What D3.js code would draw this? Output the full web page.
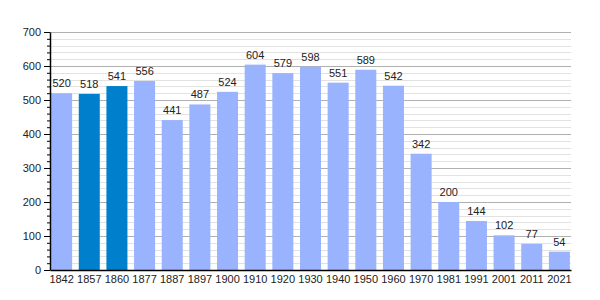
<!DOCTYPE html>
<html>
<head>
<meta charset="utf-8">
<script src="https://cdn.jsdelivr.net/npm/d3@7"></script>
<style>
  body { margin: 0; background: #fff; }
  svg text { font-family: "Liberation Sans", Arial, sans-serif; font-size: 11px; fill: #222; }
</style>
</head>
<body>
<svg id="chart" width="600" height="300"></svg>
<script>
const years = ["1842","1857","1860","1877","1887","1897","1900","1910","1920","1930","1940","1950","1960","1970","1981","1991","2001","2011","2021"];
const population = [520,518,541,556,441,487,524,604,579,598,551,589,542,342,200,144,102,77,54];
const highlighted = ["1857","1860"];
const yTicks = [0,100,200,300,400,500,600,700];

const lightColor = "#99b3ff";
const darkColor = "#0080cc";

const margin = { top: 32, right: 29, bottom: 30, left: 50 };
const width = 600 - margin.left - margin.right;
const height = 300 - margin.top - margin.bottom;

const svg = d3.select("#chart");
const g = svg.append("g").attr("transform", `translate(${margin.left},${margin.top})`);

const x = d3.scaleBand().domain(years).range([0, width]).paddingInner(0.24).paddingOuter(0.04);
const y = d3.scaleLinear().domain([0, 700]).range([height, 0]);

// minor grid
g.selectAll(".minor")
  .data(d3.range(20, 701, 20).filter(v => v % 100 !== 0))
  .join("line")
  .attr("x1", 0).attr("x2", width)
  .attr("y1", d => Math.round(y(d)) + 0.5).attr("y2", d => Math.round(y(d)) + 0.5)
  .attr("stroke", "#e2e2e2");

// major grid
g.selectAll(".major")
  .data(yTicks.filter(v => v > 0))
  .join("line")
  .attr("x1", 0).attr("x2", width)
  .attr("y1", d => Math.round(y(d)) + 0.5).attr("y2", d => Math.round(y(d)) + 0.5)
  .attr("stroke", "#b0b0b0");

// bars
g.selectAll(".bar")
  .data(years)
  .join("rect")
  .attr("x", d => x(d))
  .attr("width", x.bandwidth())
  .attr("y", (d, i) => y(population[i]))
  .attr("height", (d, i) => height - y(population[i]))
  .attr("fill", d => highlighted.includes(d) ? darkColor : lightColor);

// value labels
g.selectAll(".val")
  .data(years)
  .join("text")
  .attr("x", d => x(d) + x.bandwidth() / 2)
  .attr("y", (d, i) => y(population[i]) - 6)
  .attr("text-anchor", "middle")
  .text((d, i) => population[i]);

// y axis minor ticks
const yAxisMinor = d3.axisLeft(y).tickValues(d3.range(0, 701, 20)).tickSize(3).tickFormat("");
g.append("g").call(yAxisMinor).call(a => a.select(".domain").remove())
  .selectAll("line").attr("stroke", "#000");

// y axis major
const yAxis = d3.axisLeft(y).tickValues(yTicks).tickSize(6).tickPadding(3).tickSizeOuter(0);
g.append("g").call(yAxis)
  .call(a => a.select(".domain").attr("stroke", "#000").attr("stroke-width", 1.5))
  .call(a => a.selectAll("text").style("font-size", "11px").attr("fill", "#222"));

// x axis
const xAxis = d3.axisBottom(x).tickSize(0).tickPadding(5).tickSizeOuter(0);
g.append("g").attr("transform", `translate(0,${height})`).call(xAxis)
  .call(a => a.select(".domain").attr("stroke", "#000").attr("stroke-width", 1.5))
  .call(a => a.selectAll("text").style("font-size", "11px").attr("fill", "#222"));
</script>
</body>
</html>
